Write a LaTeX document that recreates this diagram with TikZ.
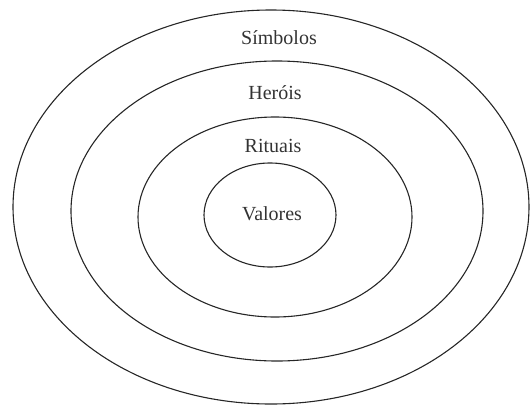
\documentclass[tikz,border=0pt]{standalone}
\usepackage{fontspec}
\setmainfont{Liberation Serif}
\usetikzlibrary{positioning}

\begin{document}
\begin{tikzpicture}[x=1pt,y=-1pt,line width=1.1pt,
    layer/.style={draw=black!85},
    lbl/.style={font=\fontsize{20}{24}\selectfont,text=black!80,inner sep=0pt}]
    \useasboundingbox (0,0) rectangle (531,405);

    \draw[layer] (271,207) ellipse [x radius=258,y radius=197];
    \draw[layer] (277,211) ellipse [x radius=206,y radius=150];
    \draw[layer] (275,217) ellipse [x radius=137,y radius=100];
    \draw[layer] (270,215) ellipse [x radius=66,y radius=52];

    \node[lbl] (simbolos) at (279,38) {Símbolos};
    \node[lbl] (herois) at (275,93) {Heróis};
    \node[lbl] (rituais) at (273,146) {Rituais};
    \node[lbl] (valores) at (272,214) {Valores};
\end{tikzpicture}
\end{document}
